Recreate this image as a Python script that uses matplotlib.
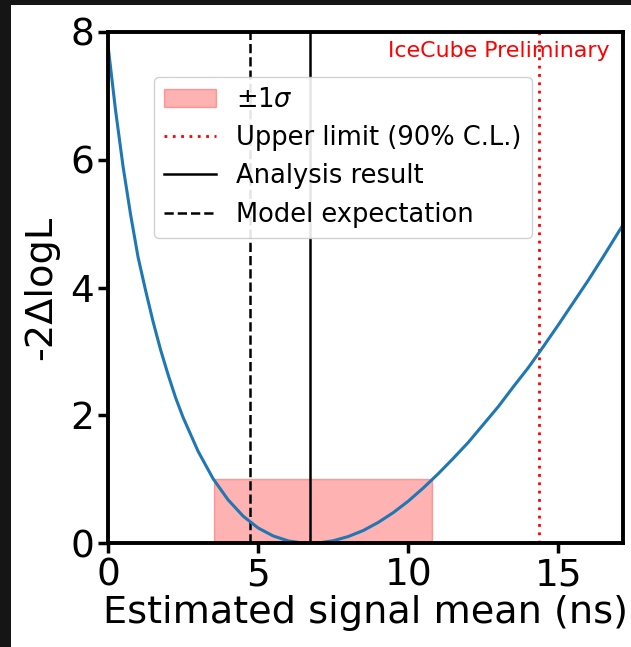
import matplotlib
matplotlib.use("Agg")
import matplotlib.pyplot as plt
from matplotlib.patches import Rectangle

# Likelihood scan: -2ΔlogL versus estimated signal mean (ns)
signal_mean = [0.0, 0.25, 0.5, 0.75, 1.0, 1.25, 1.5, 1.75, 2.0, 2.25, 2.5, 3.0,
               3.5, 4.0, 4.5, 5.0, 5.5, 6.0, 6.5, 6.72, 7.0, 7.5, 8.0, 8.5,
               9.0, 9.5, 10.0, 10.5, 10.8, 11.0, 11.5, 12.0, 12.5, 13.0,
               13.5, 14.0, 14.5, 15.0, 15.5, 16.0, 16.5, 17.0, 17.15]
neg2_dlogl = [7.79, 6.78, 5.90, 5.15, 4.48, 3.96, 3.47, 3.03, 2.64, 2.28, 1.97,
              1.44, 1.01, 0.68, 0.425, 0.24, 0.115, 0.038, 0.003, 0.0, 0.005,
              0.04, 0.106, 0.20, 0.327, 0.48, 0.66, 0.866, 1.0, 1.09, 1.33,
              1.58, 1.86, 2.14, 2.45, 2.75, 3.08, 3.42, 3.77, 4.12, 4.49,
              4.87, 4.98]

best_fit = 6.72          # analysis result
model_expect = 4.72      # model expectation
upper_limit = 14.36      # 90% C.L. upper limit
sigma_low, sigma_high = 3.52, 10.8
sigma_level = 1.0

x_max = 17.15
y_max = 8

fig = plt.figure(figsize=(6.31, 6.47), dpi=100)
fig.patch.set_facecolor("white")
# dark border along the top and left edges
dark = "#151515"
fig.patches.append(Rectangle((0, 0), 11 / 631, 1, transform=fig.transFigure,
                             facecolor=dark, edgecolor="none", zorder=-10))
fig.patches.append(Rectangle((0, 1 - 5 / 647), 1, 5 / 647,
                             transform=fig.transFigure, facecolor=dark,
                             edgecolor="none", zorder=-10))

ax = fig.add_axes([108 / 631, 1 - 543.3 / 647, 515 / 631, 511.3 / 647])
ax.set_facecolor("white")

ax.fill_between([sigma_low, sigma_high], 0, sigma_level, color="red",
                alpha=0.3, label=r"$\pm1\sigma$")
ax.axvline(upper_limit, color="red", linestyle=(0, (1, 2)), lw=2,
           label="Upper limit (90% C.L.)")
ax.axvline(best_fit, color="black", lw=1.8, label="Analysis result")
ax.axvline(model_expect, color="black", lw=1.8, linestyle="--",
           label="Model expectation")
ax.plot(signal_mean, neg2_dlogl, color="#1f77b4", lw=2.2)

ax.set_xlim(0, x_max)
ax.set_ylim(0, y_max)
ax.set_xticks([0, 5, 10, 15])
ax.set_yticks([0, 2, 4, 6, 8])

for s in ax.spines.values():
    s.set_linewidth(2.8)
ax.tick_params(labelsize=27, width=2.5, length=7, pad=3)

ax.set_xlabel("Estimated signal mean (ns)", fontsize=27.5, labelpad=1)
ax.set_ylabel("-2ΔlogL", fontsize=27.5, labelpad=8)

ax.text(0.975, 0.962, "IceCube Preliminary", color="red", fontsize=15.9,
        ha="right", va="center", transform=ax.transAxes)

leg = ax.legend(loc="upper left", bbox_to_anchor=(0.089, 0.912),
                borderaxespad=0, fontsize=18.5, framealpha=0.9,
                handlelength=2.0, labelspacing=0.47)

fig.savefig("out.png", dpi=100, facecolor=fig.get_facecolor())
